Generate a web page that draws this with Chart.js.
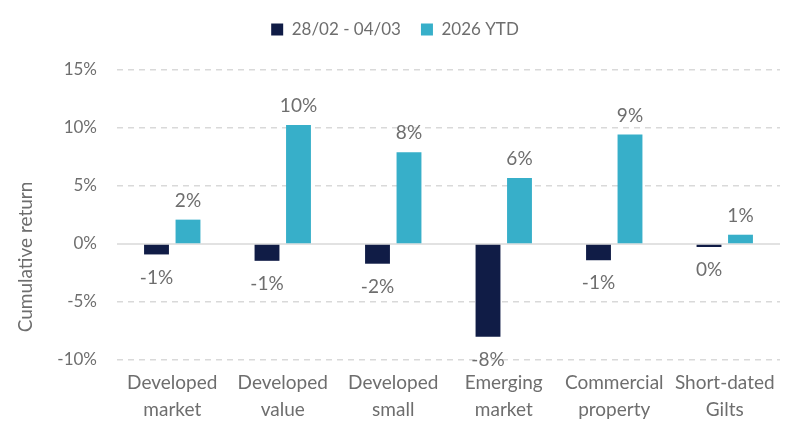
<!DOCTYPE html>
<html>
<head>
<meta charset="utf-8">
<script src="https://cdn.jsdelivr.net/npm/chart.js@4"></script>
<style>
  html, body { margin: 0; padding: 0; background: #fff; }
  #wrap { width: 800px; height: 436px; }
</style>
</head>
<body>
<div id="wrap"><canvas id="myChart" width="800" height="436"></canvas></div>
<script>
// categories and series
const categorias = [
    ['Developed', 'market'],
    ['Developed', 'value'],
    ['Developed', 'small'],
    ['Emerging', 'market'],
    ['Commercial', 'property'],
    ['Short-dated', 'Gilts']
]
const semana = [-0.9, -1.45, -1.7, -8.0, -1.4, -0.26]
const ytd = [2.1, 10.25, 7.9, 5.7, 9.45, 0.8]
const nomesSeries = ['28/02 - 04/03', '2026 YTD']
const tituloY = 'Cumulative return'

const corEscura = '#101c46'
const corClara = '#37afc9'
const corTexto = '#6e6e6e'
const fonte = 'Lato, "Open Sans", sans-serif'

// labels above / below each bar
const rotulos = {
    id: 'rotulos',
    afterDatasetsDraw(chart) {
        const ctx = chart.ctx
        ctx.save()
        ctx.font = '19px ' + fonte
        ctx.fillStyle = corTexto
        ctx.textAlign = 'center'
        ctx.textBaseline = 'middle'
        chart.data.datasets.forEach((ds, i) => {
            const meta = chart.getDatasetMeta(i)
            meta.data.forEach((barra, j) => {
                const v = ds.data[j]
                const txt = `${Math.round(v) || 0}%`
                const y = v >= 0 ? barra.y - 19 : barra.y + 23
                ctx.fillText(txt, barra.x, y)
            })
        })
        ctx.restore()
    }
}

// solid zero line + rotated axis title
const extras = {
    id: 'extras',
    beforeInit(chart) {
        const fitOrig = chart.legend.fit
        chart.legend.fit = function () {
            fitOrig.bind(chart.legend)()
            this.height += 22
        }
    },
    beforeDatasetsDraw(chart) {
        const ctx = chart.ctx
        const y = chart.scales.y.getPixelForValue(0)
        ctx.save()
        ctx.strokeStyle = '#d9d9d9'
        ctx.lineWidth = 1.5
        ctx.beginPath()
        ctx.moveTo(chart.chartArea.left, y)
        ctx.lineTo(chart.chartArea.right, y)
        ctx.stroke()
        ctx.translate(26, 257)
        ctx.rotate(-Math.PI / 2)
        ctx.font = '19px ' + fonte
        ctx.fillStyle = corTexto
        ctx.textAlign = 'center'
        ctx.textBaseline = 'middle'
        ctx.fillText(tituloY, 0, 0)
        ctx.restore()
    }
}

const ctx = document.getElementById('myChart').getContext('2d')
const chart = new Chart(ctx, {
    type: 'bar',
    data: {
        labels: categorias,
        datasets: [{
            label: nomesSeries[0],
            backgroundColor: corEscura,
            data: semana
        }, {
            label: nomesSeries[1],
            backgroundColor: corClara,
            data: ytd
        }]
    },
    options: {
        responsive: false,
        animation: false,
        devicePixelRatio: 1,
        categoryPercentage: 0.57,
        barPercentage: 0.79,
        layout: { padding: { top: 1, right: 20, bottom: 10, left: 10 } },
        plugins: {
            tooltip: { enabled: false },
            legend: {
                position: 'top',
                labels: {
                    boxWidth: 12,
                    boxHeight: 12,
                    padding: 20,
                    color: corTexto,
                    font: { family: fonte, size: 17 }
                }
            }
        },
        scales: {
            y: {
                min: -10,
                max: 15,
                ticks: {
                    stepSize: 5,
                    color: corTexto,
                    padding: 20,
                    font: { family: fonte, size: 17 },
                    callback: (v) => v + '%'
                },
                grid: {
                    color: (c) => c.tick && c.tick.value === 0 ? 'rgba(0,0,0,0)' : '#d9d9d9',
                    lineWidth: 1.5,
                    drawTicks: false
                },
                border: { display: false, dash: [6, 5] },
                afterFit: (s) => { s.width = 107 }
            },
            x: {
                grid: { display: false },
                border: { display: false },
                ticks: {
                    color: corTexto,
                    padding: 2,
                    maxRotation: 0,
                    font: { family: fonte, size: 19, lineHeight: 1.4 }
                },
                afterFit: (s) => { s.height = 66 }
            }
        }
    },
    plugins: [extras, rotulos]
})
</script>
</body>
</html>
